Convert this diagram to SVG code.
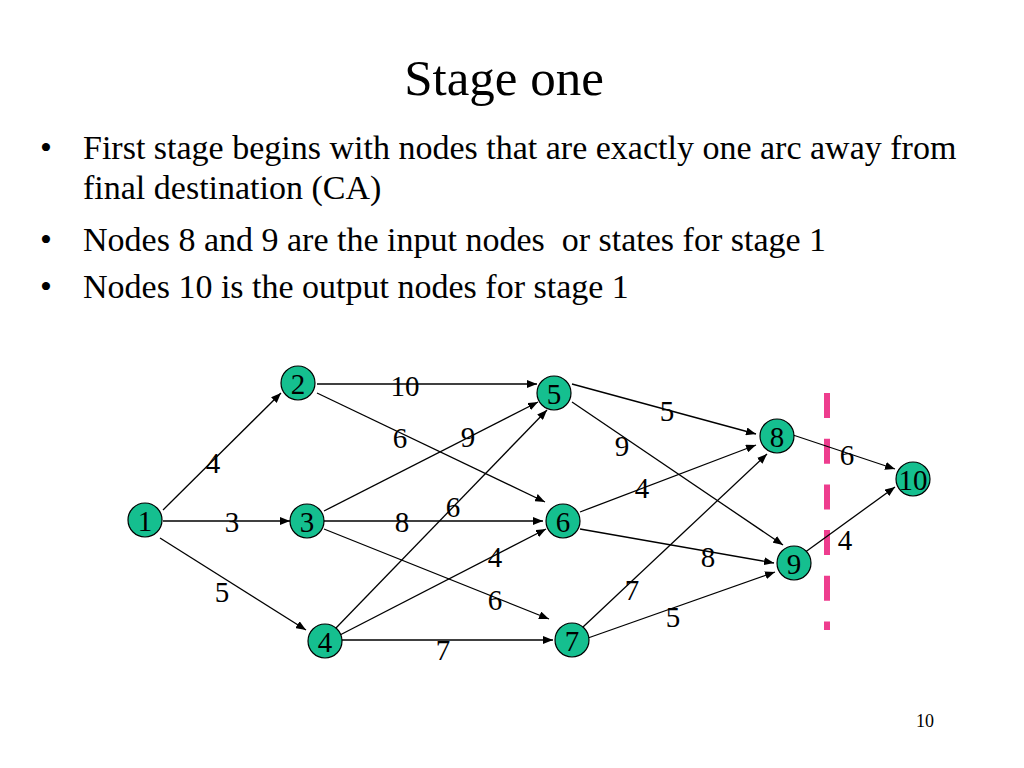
<svg xmlns="http://www.w3.org/2000/svg" width="1024" height="768" viewBox="0 0 1024 768">
<defs>
<style>
.t{font-family:"Liberation Serif","Times New Roman",serif;fill:#000}
.title{font-size:51px;text-anchor:middle}
.b{font-size:34px}
.lbl{font-size:29px;text-anchor:middle}
.n circle{fill:#15BF8F;stroke:#000;stroke-width:1.2}
.n text{font-family:"Liberation Serif","Times New Roman",serif;font-size:29px;text-anchor:middle;fill:#000}
.e line{stroke:#000;stroke-width:1.3;marker-end:url(#ah)}
</style>
<marker id="ah" viewBox="0 0 10 8" refX="10" refY="4" markerWidth="10" markerHeight="8" markerUnits="userSpaceOnUse" orient="auto">
<path d="M0,0 L10,4 L0,8 Z" fill="#000"/>
</marker>
</defs>
<rect width="1024" height="768" fill="#fff"/>
<text class="t title" x="504" y="95">Stage one</text>
<g class="t b">
<text x="40" y="159">•</text>
<text x="83" y="159">First stage begins with nodes that are exactly one arc away from</text>
<text x="83" y="199">final destination (CA)</text>
<text x="40" y="251">•</text>
<text x="83" y="251" xml:space="preserve" style="white-space:pre">Nodes 8 and 9 are the input nodes  or states for stage 1</text>
<text x="40" y="298">•</text>
<text x="83" y="298">Nodes 10 is the output nodes for stage 1</text>
</g>
<text class="t" x="925" y="727" font-size="18" text-anchor="middle">10</text>
<line x1="827" y1="393" x2="827" y2="630" stroke="#EE3D8E" stroke-width="6" stroke-dasharray="25 20.7"/>
<g id="connectors" class="e">
<line x1="163" y1="510" x2="281" y2="393"/>
<line x1="163" y1="521" x2="290" y2="521"/>
<line x1="160" y1="538" x2="306" y2="630"/>
<line x1="317" y1="384" x2="537" y2="384"/>
<line x1="317" y1="393" x2="545" y2="502"/>
<line x1="324" y1="511" x2="538" y2="402"/>
<line x1="324" y1="521" x2="543" y2="521"/>
<line x1="324" y1="529" x2="549" y2="619"/>
<line x1="335" y1="629" x2="547" y2="410"/>
<line x1="338" y1="636" x2="546" y2="529"/>
<line x1="342" y1="640" x2="553" y2="640"/>
<line x1="572" y1="384" x2="756" y2="434"/>
<line x1="572" y1="402" x2="783" y2="545"/>
<line x1="580" y1="512" x2="756" y2="445"/>
<line x1="580" y1="529" x2="774" y2="563"/>
<line x1="583" y1="627" x2="767" y2="454"/>
<line x1="588" y1="638" x2="775" y2="572"/>
<line x1="793" y1="435" x2="895" y2="469"/>
<line x1="804" y1="553" x2="895" y2="487"/>
</g>
<g id="edge-labels" class="t lbl">
<text x="213" y="473">4</text>
<text x="232" y="532">3</text>
<text x="222" y="602">5</text>
<text x="405" y="396">10</text>
<text x="400" y="448">6</text>
<text x="402" y="532">8</text>
<text x="468" y="447">9</text>
<text x="453" y="517">6</text>
<text x="495" y="567">4</text>
<text x="495" y="610">6</text>
<text x="443" y="660">7</text>
<text x="667" y="421">5</text>
<text x="622" y="456">9</text>
<text x="642" y="498">4</text>
<text x="632" y="600">7</text>
<text x="673" y="627">5</text>
<text x="708" y="567">8</text>
<text x="847" y="465">6</text>
<text x="845" y="550">4</text>
</g>
<g id="node1" class="n"><circle cx="145" cy="520" r="17"/><text x="145" y="531">1</text></g>
<g id="node2" class="n"><circle cx="298" cy="383" r="17"/><text x="298" y="394">2</text></g>
<g id="node3" class="n"><circle cx="307" cy="521" r="17"/><text x="307" y="532">3</text></g>
<g id="node4" class="n"><circle cx="325" cy="641" r="17"/><text x="325" y="652">4</text></g>
<g id="node5" class="n"><circle cx="554" cy="393" r="17"/><text x="554" y="404">5</text></g>
<g id="node6" class="n"><circle cx="563" cy="521" r="17"/><text x="563" y="532">6</text></g>
<g id="node7" class="n"><circle cx="572" cy="640" r="17"/><text x="572" y="651">7</text></g>
<g id="node8" class="n"><circle cx="777" cy="436" r="17"/><text x="777" y="447">8</text></g>
<g id="node9" class="n"><circle cx="794" cy="563" r="17"/><text x="794" y="574">9</text></g>
<g id="node10" class="n"><circle cx="913" cy="479" r="17"/><text x="913" y="490">10</text></g>
</svg>
